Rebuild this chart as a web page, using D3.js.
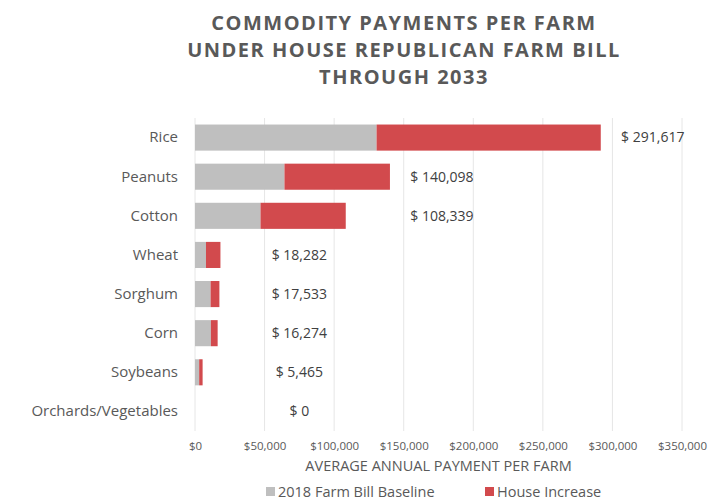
<!DOCTYPE html>
<html>
<head>
<meta charset="utf-8">
<script src="https://cdn.jsdelivr.net/npm/d3@7/dist/d3.min.js"></script>
<style>
  html, body { margin: 0; padding: 0; background: #fff; }
  svg { display: block; font-family: "Open Sans", "Noto Sans", sans-serif; }
</style>
</head>
<body>
<svg id="chart" width="713" height="501"></svg>
<script>
// Average annual commodity payment per farm (USD)
const crops = ["Rice", "Peanuts", "Cotton", "Wheat", "Sorghum", "Corn", "Soybeans", "Orchards/Vegetables"];
const totals = [291617, 140098, 108339, 18282, 17533, 16274, 5465, 0];
const baseline = [130500, 64300, 47100, 7900, 11200, 11400, 3000, 0];
const tickValues = [0, 50000, 100000, 150000, 200000, 250000, 300000, 350000];
const seriesNames = ["2018 Farm Bill Baseline", "House Increase"];
const titleLines = ["COMMODITY PAYMENTS PER FARM", "UNDER HOUSE REPUBLICAN FARM BILL", "THROUGH 2033"];

const colors = { base: "#bfbfbf", increase: "#d24a4d", text: "#595959", grid: "#e6e6e6" };

const svg = d3.select("#chart");
const plot = { left: 195, right: 682, top: 118, bottom: 431 };

const x = d3.scaleLinear().domain([0, 350000]).range([plot.left, plot.right]);
const y = d3.scaleBand().domain(crops).range([plot.top, plot.bottom])
  .paddingInner(0.333).paddingOuter(0.167);

// Title
svg.append("g").selectAll("text").data(titleLines).join("text")
  .attr("x", 404).attr("y", (d, i) => 30 + i * 27)
  .attr("text-anchor", "middle")
  .attr("font-size", 20).attr("font-weight", 700)
  .attr("letter-spacing", 1.5)
  .attr("fill", colors.text)
  .text(d => d);

// Vertical gridlines
svg.append("g").selectAll("line").data(tickValues).join("line")
  .attr("x1", d => x(d)).attr("x2", d => x(d))
  .attr("y1", plot.top).attr("y2", plot.bottom)
  .attr("stroke", colors.grid).attr("stroke-width", 1);

// X axis tick labels
const xAxis = d3.axisBottom(x).tickValues(tickValues)
  .tickFormat(d => "$" + d3.format(",")(d)).tickSize(0).tickPadding(10);
const gx = svg.append("g").attr("transform", `translate(0,${plot.bottom + 1})`).call(xAxis);
gx.select(".domain").remove();
gx.selectAll("text").attr("font-size", 11.5).attr("fill", colors.text)
  .attr("font-family", "Open Sans, sans-serif");

// X axis title
svg.append("text")
  .attr("x", (plot.left + plot.right) / 2).attr("y", 471)
  .attr("text-anchor", "middle").attr("font-size", 14.5).attr("fill", colors.text)
  .text("AVERAGE ANNUAL PAYMENT PER FARM");

// Category labels
const yAxis = d3.axisLeft(y).tickSize(0).tickPadding(17);
const gy = svg.append("g").attr("transform", `translate(${plot.left},0)`).call(yAxis);
gy.select(".domain").remove();
gy.selectAll("text").attr("font-size", 15).attr("fill", colors.text)
  .attr("font-family", "Open Sans, sans-serif");

// Stacked bars
const rows = crops.map((c, i) => ({ crop: c, base: baseline[i], total: totals[i] }));
const bars = svg.append("g");
bars.selectAll("rect.base").data(rows).join("rect").attr("class", "base")
  .attr("x", x(0)).attr("y", d => y(d.crop))
  .attr("width", d => x(d.base) - x(0)).attr("height", y.bandwidth())
  .attr("fill", colors.base);
bars.selectAll("rect.inc").data(rows).join("rect").attr("class", "inc")
  .attr("x", d => x(d.base)).attr("y", d => y(d.crop))
  .attr("width", d => x(d.total) - x(d.base)).attr("height", y.bandwidth())
  .attr("fill", colors.increase);

// Total labels: placed past the bar end, kept clear of the short bars,
// and lined up in a column with the label above when they sit close together
const labelX = rows.map(d => Math.max(x(d.total) + 52, x(75000)));
for (let i = 1; i < labelX.length; i++) {
  if (labelX[i] < labelX[i - 1] && labelX[i - 1] - labelX[i] < 60) labelX[i] = labelX[i - 1];
}
const fmt = d3.format(",");
svg.append("g").selectAll("text").data(rows).join("text")
  .attr("x", (d, i) => labelX[i])
  .attr("y", d => y(d.crop) + y.bandwidth() / 2)
  .attr("dy", "0.35em").attr("text-anchor", "middle")
  .attr("font-size", 14).attr("fill", "#404040")
  .text(d => "$ " + fmt(d.total));

// Legend
const legend = svg.append("g").attr("transform", "translate(0,492)");
const items = [
  { name: seriesNames[0], color: colors.base, x: 266 },
  { name: seriesNames[1], color: colors.increase, x: 485 }
];
const li = legend.selectAll("g").data(items).join("g")
  .attr("transform", d => `translate(${d.x},0)`);
li.append("rect").attr("x", 0).attr("y", -5).attr("width", 9).attr("height", 9)
  .attr("fill", d => d.color);
li.append("text").attr("x", 12).attr("y", 0).attr("dy", "0.35em")
  .attr("font-size", 14.5).attr("fill", colors.text).text(d => d.name);
</script>
</body>
</html>
